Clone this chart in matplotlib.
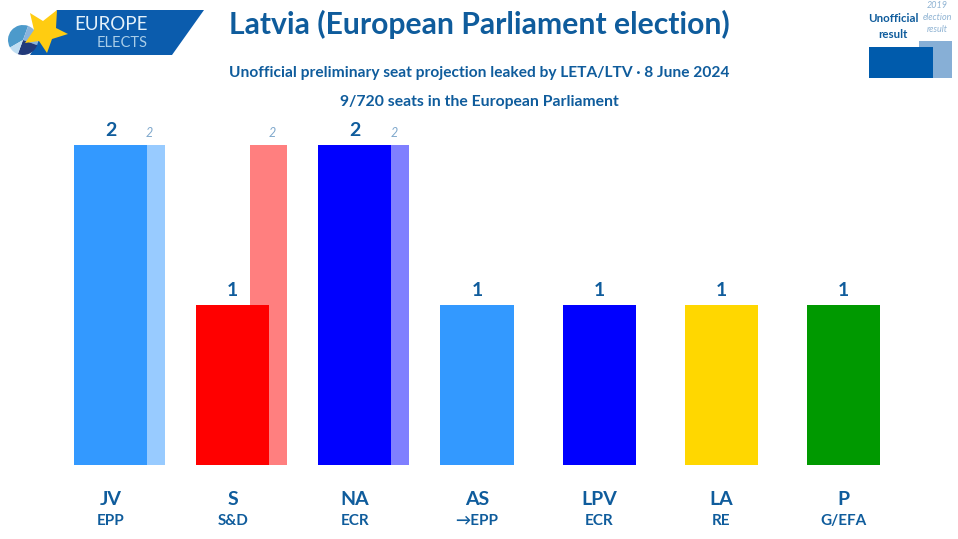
import matplotlib
matplotlib.use("Agg")
import matplotlib.pyplot as plt
from matplotlib.patches import Polygon, Rectangle, Wedge

parties = ["JV", "S", "NA", "AS", "LPV", "LA", "P"]
groups = ["EPP", "S&D", "ECR", "→EPP", "ECR", "RE", "G/EFA"]
seats = [2, 1, 2, 1, 1, 1, 1]
seats_2019 = [2, 2, 2, 0, 0, 0, 0]
colors = ["#3399FF", "#FF0000", "#0000FF", "#3399FF", "#0000FF", "#FFD700", "#009900"]
title = "Latvia (European Parliament election)"
subtitle = "Unofficial preliminary seat projection leaked by LETA/LTV · 8 June 2024"
seat_line = "9/720 seats in the European Parliament"

W, H = 958, 539
INK = "#0F5C9C"
plt.rcParams["font.family"] = ["Lato", "DejaVu Sans"]
fig = plt.figure(figsize=(W / 100, H / 100), dpi=100, facecolor="white")

# overlay in pixel coordinates for logo and key, behind the text
ov = fig.add_axes([0, 0, 1, 1], zorder=-1)
ov.set_xlim(0, W); ov.set_ylim(H, 0); ov.axis("off")

ax = fig.add_axes([49.4 / W, (H - 465) / H, 855.2 / W, 320 / H])
ax.set_xlim(-0.5, 6.5)
ax.set_ylim(0, 2)
ax.axis("off")

pos = list(range(len(parties)))
for i in pos:
    if seats_2019[i]:
        ax.bar(i + 0.295, seats_2019[i], width=0.3, color=colors[i], alpha=0.5, linewidth=0, zorder=1)
    ax.bar(i, seats[i], width=0.6, color=colors[i], linewidth=0, zorder=2)
    ax.annotate(str(seats[i]), (i, seats[i]), xytext=(0, 4), textcoords="offset points",
                ha="center", va="bottom", fontsize=14, fontweight="bold", color=INK)
    if seats_2019[i]:
        ax.annotate(str(seats_2019[i]), (i + 0.32, seats_2019[i]), xytext=(0, 4.5), textcoords="offset points",
                    ha="center", va="bottom", fontsize=9, style="italic", color="#7FA8CC")
    ax.annotate(parties[i], (i, 0), xytext=(0, -25), textcoords="offset points",
                ha="center", va="center", fontsize=14, fontweight="bold", color=INK)
    ax.annotate(groups[i], (i, 0), xytext=(0, -40), textcoords="offset points",
                ha="center", va="center", fontsize=11, fontweight="bold", color=INK)

def T(x, y, s, **kw):
    fig.text(x / W, (H - y) / H, s, ha=kw.pop("ha", "center"), va="center", color=kw.pop("color", INK), **kw)

T(479.5, 24, title, fontsize=21.7, fontweight="bold")
T(479.5, 73, subtitle, fontsize=11.2, fontweight="bold")
T(479, 102, seat_line, fontsize=11.3, fontweight="bold")

ov.add_patch(Polygon([(57, 10), (204, 10), (172, 55), (30, 55)], color="#0B5CAD", lw=0))
ov.add_patch(Wedge((23, 40), 15, 150, 290, color="#4C9ACB", lw=0))
ov.add_patch(Wedge((23, 40), 15, 290, 380, color="#8AB4DC", lw=0))
ov.add_patch(Wedge((23, 40), 15, 20, 110, color="#223A7A", lw=0))
ov.add_patch(Wedge((23, 40), 15, 110, 150, color="#BFDDF2", lw=0))
ov.add_patch(Polygon([(30, 13), (43, 21), (57, 10), (56, 28), (68, 34), (52, 39), (47, 53), (39, 41), (25, 43), (34, 30)],
                     color="#FFCC11", lw=0))
T(110.5, 24, "EUROPE", fontsize=13.5, color="#E4F1FA")
T(122, 43, "ELECTS", fontsize=10.5, color="#A9CDE8")

ov.add_patch(Rectangle((919, 41), 33, 37, color="#87AFD6", lw=0))
ov.add_patch(Rectangle((869, 47), 64, 31, color="#005BAC", lw=0))
T(893, 18, "Unofficial", fontsize=8.3, fontweight="bold")
T(893, 34, "result", fontsize=8.3, fontweight="bold")
T(937, 6, "2019", fontsize=6.5, style="italic", color="#8FB3D3")
T(937, 18, "election", fontsize=6.5, style="italic", color="#8FB3D3")
T(937, 30, "result", fontsize=6.5, style="italic", color="#8FB3D3")
fig.savefig("out.png", dpi=100, facecolor="white")
